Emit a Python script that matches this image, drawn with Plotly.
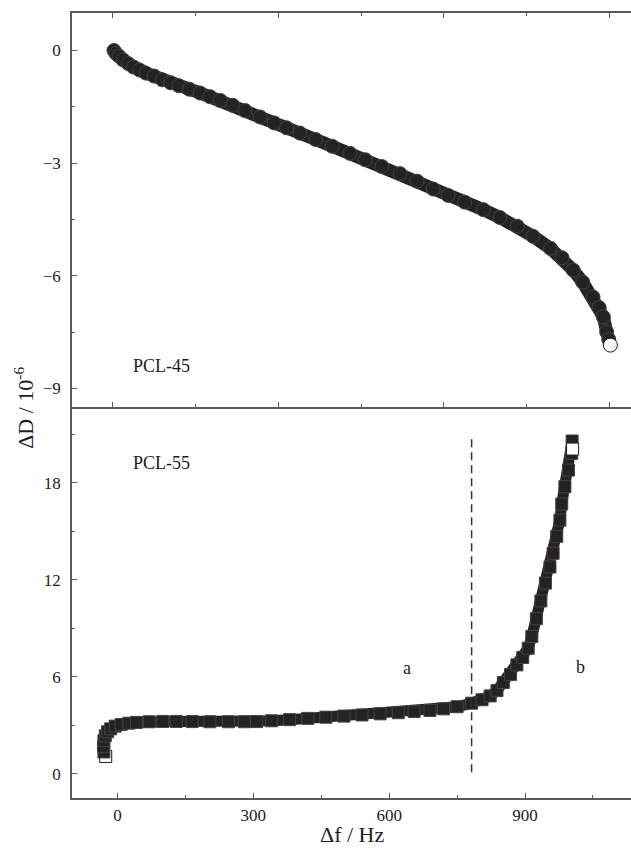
import plotly.graph_objects as go

# PCL-45: frequency shift (Hz) vs dissipation change (1e-6)
pcl45_df = [3, 8, 15, 25, 38, 50, 65, 80, 100, 120, 140, 160, 185, 211, 235, 260,
            290, 320, 356, 390, 420, 452, 490, 530, 573, 610, 650, 694, 735, 774,
            810, 850, 895, 935, 977, 1015, 1057, 1085, 1112, 1135, 1160, 1175,
            1185, 1193, 1198, 1202]
pcl45_dd = [0.0, -0.08, -0.15, -0.25, -0.35, -0.44, -0.52, -0.60, -0.68, -0.78,
            -0.86, -0.94, -1.03, -1.13, -1.23, -1.33, -1.46, -1.60, -1.77, -1.93,
            -2.06, -2.20, -2.37, -2.55, -2.74, -2.91, -3.09, -3.28, -3.48, -3.69,
            -3.86, -4.04, -4.24, -4.45, -4.68, -4.95, -5.27, -5.52, -5.85, -6.17,
            -6.57, -6.85, -7.10, -7.50, -7.70, -7.85]

# PCL-55: frequency shift (Hz) vs dissipation change (1e-6)
pcl55_df = [-26, -30, -31, -30, -27, -22, -15, -5, 8, 25, 42, 70, 100, 130, 165,
            204, 245, 280, 307, 340, 380, 420, 460, 500, 540, 580, 620, 655, 690,
            720, 750, 782, 805, 823, 838, 852, 868, 882, 895, 907, 915, 925, 935,
            945, 955, 962, 970, 977, 981, 988, 996, 1003, 1004, 1005]
pcl55_dd = [1.07, 1.35, 1.70, 2.05, 2.35, 2.60, 2.78, 2.95, 3.05, 3.13, 3.18,
            3.22, 3.24, 3.24, 3.23, 3.22, 3.22, 3.22, 3.23, 3.28, 3.35, 3.43,
            3.50, 3.57, 3.64, 3.71, 3.78, 3.85, 3.92, 4.02, 4.15, 4.37, 4.58,
            4.82, 5.15, 5.65, 6.15, 6.74, 7.20, 7.77, 8.50, 9.60, 10.70, 11.80,
            12.80, 13.65, 14.70, 15.70, 16.70, 17.77, 18.80, 19.83, 20.60, 20.10]

# regime boundary between regions a and b
boundary_df = [782, 782]
boundary_dd = [0.1, 20.9]

bottom_ticks = [0, 300, 600, 900]
top_panel_ticks = [0, -3, -6, -9]
bottom_panel_ticks = [0, 6, 12, 18]

SERIF = "Liberation Serif"
INK = "#1c1c1c"
BAND = "#242223"
EDGE = "#454345"
AXIS = "#5a5a5a"

fig = go.Figure()

# upper panel: dense hollow circles rendered as a dark band
n45 = len(pcl45_df)
fig.add_trace(go.Scatter(
    x=pcl45_df, y=pcl45_dd, xaxis="x2", yaxis="y2", mode="lines+markers",
    line=dict(color=BAND, width=13),
    marker=dict(symbol="circle", size=14,
                color=[BAND] * (n45 - 1) + ["white"],
                line=dict(color=[EDGE] * (n45 - 1) + [INK], width=1.0)),
    showlegend=False, hoverinfo="skip"))

# lower panel: dense hollow squares rendered as a dark band
n55 = len(pcl55_df)
fig.add_trace(go.Scatter(
    x=pcl55_df, y=pcl55_dd, xaxis="x", yaxis="y", mode="lines+markers",
    line=dict(color=BAND, width=11),
    marker=dict(symbol="square", size=12,
                color=["white"] + [BAND] * (n55 - 2) + ["white"],
                line=dict(color=[INK] + [EDGE] * (n55 - 2) + [INK], width=1.0)),
    showlegend=False, hoverinfo="skip"))

fig.add_trace(go.Scatter(
    x=boundary_df, y=boundary_dd, xaxis="x", yaxis="y", mode="lines",
    line=dict(color="#333333", width=1.5, dash="8px,5px"),
    showlegend=False, hoverinfo="skip"))

tick_font = dict(family=SERIF, size=17, color=INK)
common = dict(showgrid=False, zeroline=False, showline=True, linecolor=AXIS,
              linewidth=1.5, ticks="inside", tickcolor=AXIS, tickwidth=1.2,
              ticklen=5, tickfont=tick_font)

fig.update_layout(
    width=631, height=852,
    margin=dict(l=72, r=0, t=13, b=54),
    paper_bgcolor="white", plot_bgcolor="white",
    xaxis=dict(**common, domain=[0, 1], anchor="y", range=[-100.5, 1134],
               tickmode="array", tickvals=bottom_ticks,
               ticklabelstandoff=1,
               minor=dict(ticks="inside", ticklen=3, tickcolor=AXIS,
                          tickmode="linear", tick0=150, dtick=300)),
    yaxis=dict(**common, domain=[0, 0.498], anchor="x", range=[-1.5, 22.7],
               tickmode="array", tickvals=bottom_panel_ticks,
               ticklabelstandoff=6,
               minor=dict(ticks="inside", ticklen=3, tickcolor=AXIS,
                          tickmode="linear", tick0=3, dtick=6)),
    xaxis2=dict(**common, domain=[0, 1], anchor="y2", range=[-98.3, 1251.7],
                mirror="ticks", showticklabels=False,
                tickmode="linear", tick0=0, dtick=400,
                minor=dict(ticks="inside", ticklen=3, tickcolor=AXIS,
                           tickmode="linear", tick0=200, dtick=400)),
    yaxis2=dict(**common, domain=[0.498, 1], anchor="x2", range=[-9.5, 1.0],
                tickmode="array", tickvals=top_panel_ticks,
                ticklabelstandoff=6,
                minor=dict(ticks="inside", ticklen=3, tickcolor=AXIS,
                           tickmode="linear", tick0=-1.5, dtick=3)),
)

label_font = dict(family=SERIF, size=18, color=INK)
fig.add_annotation(x=119, y=-8.41, xref="x2", yref="y2", text="PCL-45",
                   showarrow=False, font=label_font)
fig.add_annotation(x=98, y=19.23, xref="x", yref="y", text="PCL-55",
                   showarrow=False, font=label_font)
fig.add_annotation(x=640, y=6.55, xref="x", yref="y", text="a",
                   showarrow=False, font=label_font)
fig.add_annotation(x=1023, y=6.6, xref="x", yref="y", text="b",
                   showarrow=False, font=label_font)

title_font = dict(family=SERIF, size=22, color=INK)
fig.add_annotation(x=(352 - 72) / 559, y=(798.7 - 835) / 785, xref="paper",
                   yref="paper", text="Δf / Hz", showarrow=False,
                   font=title_font, xanchor="center", yanchor="middle")
fig.add_annotation(x=(24 - 72) / 559, y=0.497, xref="paper", yref="paper",
                   text="ΔD / 10<sup>-6</sup>", showarrow=False, textangle=-90,
                   font=title_font, xanchor="center", yanchor="middle")

fig.write_html("out.html")
